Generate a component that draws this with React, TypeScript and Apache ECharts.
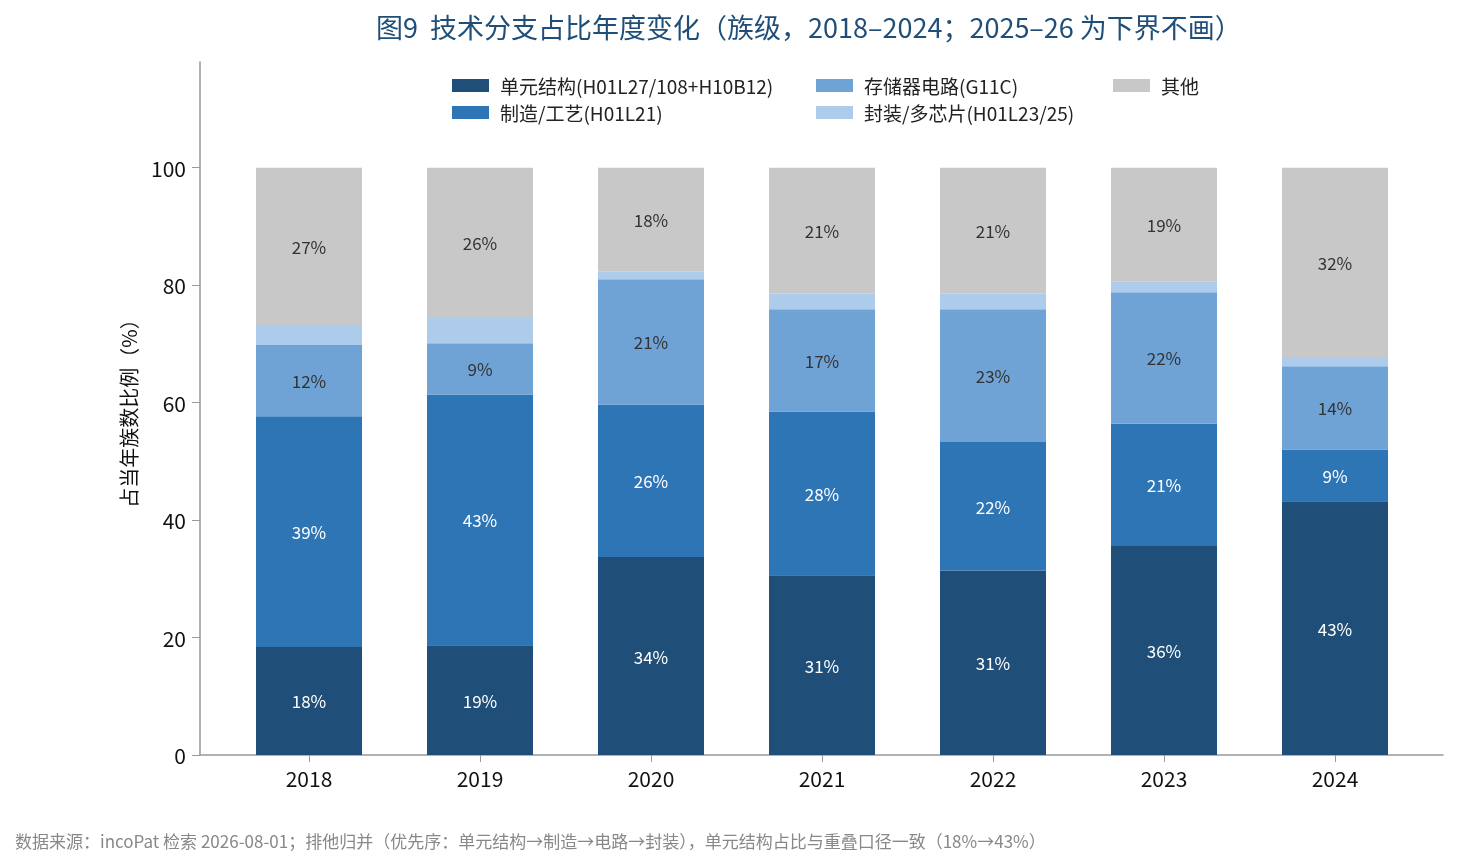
import React, { useEffect, useRef } from 'react';
import * as echarts from 'echarts';

// 年份与各分支占比（%）
const years = ['2018', '2019', '2020', '2021', '2022', '2023', '2024'];
const cellStructure = [18.4, 18.7, 33.7, 30.6, 31.4, 35.6, 43.2];
const process = [39.3, 42.7, 26.0, 27.9, 21.9, 20.8, 8.8];
const memoryCircuit = [12.1, 8.7, 21.3, 17.4, 22.6, 22.4, 14.2];
const packaging = [3.4, 4.3, 1.3, 2.7, 2.7, 1.8, 1.4];
const others = [26.8, 25.6, 17.7, 21.4, 21.4, 19.4, 32.4];
const yTicks = [0, 20, 40, 60, 80, 100];

const seriesNames = [
  '单元结构(H01L27/108+H10B12)',
  '制造/工艺(H01L21)',
  '存储器电路(G11C)',
  '封装/多芯片(H01L23/25)',
  '其他',
];
const seriesValues = [cellStructure, process, memoryCircuit, packaging, others];
const colors = ['#1f4e79', '#2e75b6', '#6fa3d6', '#adcbea', '#c8c8c8'];
const labelColors = ['#ffffff', '#ffffff', '#333333', '#333333', '#333333'];

const FONT = '"Noto Sans CJK SC", "Noto Sans", sans-serif';

const App: React.FC = () => {
  const chartRef = useRef<HTMLDivElement>(null);

  useEffect(() => {
    if (!chartRef.current) return;
    const chart = echarts.init(chartRef.current, undefined, { renderer: 'svg' });

    const series = seriesNames.map((name, si) => ({
      name,
      type: 'bar',
      stack: 'total',
      barWidth: 106,
      xAxisIndex: 0,
      yAxisIndex: 0,
      data: seriesValues[si],
      itemStyle: { color: colors[si] },
      label: {
        show: true,
        position: 'inside',
        color: labelColors[si],
        fontSize: 17,
        fontFamily: FONT,
        formatter: (p: any) => (p.value >= 5 ? Math.round(p.value) + '%' : ''),
      },
    }));

    const legendBase = {
      orient: 'vertical',
      itemWidth: 37,
      itemHeight: 13,
      itemGap: 8,
      icon: 'rect',
      textStyle: { fontSize: 19, color: '#222', fontFamily: FONT, padding: [0, 0, 0, 6] },
    };

    const axisGrey = '#999';

    const option = {
      animation: false,
      title: {
        text: '图9  技术分支占比年度变化（族级，2018–2024；2025–26 为下界不画）',
        left: 371,
        top: 8,
        textStyle: { fontSize: 27, fontWeight: 'normal', color: '#1f4e79', fontFamily: FONT },
      },
      legend: [
        { ...legendBase, left: 447, top: 71, data: [seriesNames[0], seriesNames[1]] },
        { ...legendBase, left: 811, top: 71, data: [seriesNames[2], seriesNames[3]] },
        { ...legendBase, left: 1108, top: 71, data: [seriesNames[4]] },
      ],
      grid: [
        // 柱子所在区域：每个类目带宽与参考一致
        { left: 223.5, right: 37.5, top: 62, bottom: 113 },
        // 坐标轴线所在区域
        { left: 200, right: 15, top: 62, bottom: 113 },
      ],
      xAxis: [
        {
          type: 'category',
          gridIndex: 0,
          data: years,
          axisLine: { show: false },
          axisTick: { show: true, alignWithLabel: true, length: 7, lineStyle: { color: axisGrey } },
          axisLabel: { fontSize: 21, color: '#111', margin: 12, fontFamily: FONT },
        },
        {
          type: 'value',
          gridIndex: 1,
          min: 0,
          max: 1,
          splitLine: { show: false },
          axisLine: { show: true, lineStyle: { color: axisGrey, width: 1.5 } },
          axisTick: { show: false },
          axisLabel: { show: false },
        },
      ],
      yAxis: [
        {
          type: 'value',
          gridIndex: 0,
          min: 0,
          max: 118,
          interval: 20,
          show: false,
        },
        {
          type: 'value',
          gridIndex: 1,
          min: 0,
          max: 118,
          name: '占当年族数比例（%）',
          nameLocation: 'middle',
          nameGap: 62,
          nameTextStyle: { fontSize: 20, color: '#111', fontFamily: FONT },
          splitLine: { show: false },
          axisLine: { show: true, onZero: false, lineStyle: { color: axisGrey, width: 1.5 } },
          axisTick: { show: true, length: 8, customValues: yTicks, lineStyle: { color: axisGrey } },
          axisLabel: {
            customValues: yTicks,
            fontSize: 21,
            color: '#111',
            margin: 14,
            fontFamily: FONT,
          },
        },
      ],
      graphic: [
        {
          type: 'text',
          left: 15,
          top: 832,
          style: {
            text: '数据来源：incoPat 检索 2026-08-01；排他归并（优先序：单元结构→制造→电路→封装），单元结构占比与重叠口径一致（18%→43%）',
            fontSize: 17,
            fill: '#888',
            fontFamily: FONT,
          },
        },
      ],
      series,
    };

    chart.setOption(option);

    const handleResize = () => chart.resize();
    window.addEventListener('resize', handleResize);
    return () => {
      window.removeEventListener('resize', handleResize);
      chart.dispose();
    };
  }, []);

  return (
    <div style={{ position: 'fixed', left: 0, top: 0 }}>
      <div ref={chartRef} style={{ width: 1458, height: 868 }}></div>
    </div>
  );
};

export default App;
